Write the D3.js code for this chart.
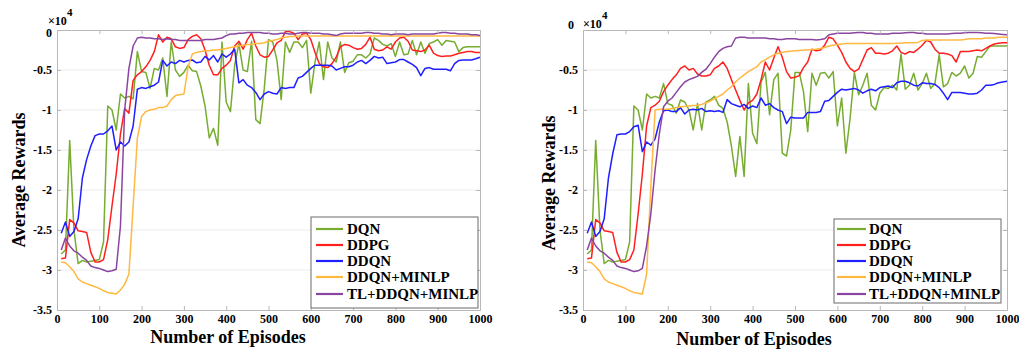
<!DOCTYPE html>
<html>
<head>
<meta charset="utf-8">
<script src="https://cdn.jsdelivr.net/npm/d3@7"></script>
<style>
  body { margin: 0; background: #fff; }
  svg { display: block; font-family: "Liberation Serif", "Times New Roman", serif; font-weight: bold; }
</style>
</head>
<body>
<svg id="chart" width="1019" height="353"></svg>
<script>
// episodes sampled every 10
const episodes = d3.range(10, 1001, 10);
const xTicks = [0, 100, 200, 300, 400, 500, 600, 700, 800, 900, 1000];
const yTicks = [0, -0.5, -1, -1.5, -2, -2.5, -3, -3.5];
const seriesNames = ["DQN", "DDPG", "DDQN", "DDQN+MINLP", "TL+DDQN+MINLP"];

// left panel (x10^4)
const leftDQN = [
  -2.80, -2.75, -1.38, -2.50, -2.92, -2.88, -2.90, -2.89, -2.88, -2.87,
  -2.65, -0.95, -1.00, -1.25, -0.80, -0.85, -0.83, -0.86, -0.27, -0.52,
  -0.53, -0.73, -0.48, -0.50, -0.35, -0.83, -0.15, -0.50, -0.58, -0.53,
  -0.44, -0.51, -0.52, -0.70, -0.95, -1.35, -1.23, -1.44, -0.15, -0.90,
  -1.02, -0.44, -0.17, -0.50, -0.52, -0.14, -1.12, -1.17, -0.73, -0.12,
  -0.15, -0.38, -0.87, -0.15, -0.28, -0.15, -0.15, -0.22, -0.13, -0.79,
  -0.40, -0.15, -0.62, -0.15, -0.35, -0.40, -0.15, -0.53, -0.41, -0.39,
  -0.31, -0.31, -0.35, -0.30, -0.10, -0.13, -0.18, -0.20, -0.17, -0.33,
  -0.15, -0.31, -0.30, -0.13, -0.31, -0.15, -0.29, -0.17, -0.15, -0.12,
  -0.19, -0.13, -0.14, -0.15, -0.27, -0.22, -0.21, -0.21, -0.21, -0.21
];
const leftDDPG = [
  -2.86, -2.85, -2.37, -2.41, -2.51, -2.52, -2.53, -2.78, -2.90, -2.90,
  -2.87, -2.62, -2.20, -1.80, -1.30, -0.98, -1.04, -0.63, -0.56, -0.52,
  -0.46, -0.38, -0.27, -0.06, -0.15, -0.09, -0.11, -0.21, -0.23, -0.22,
  -0.12, -0.08, -0.06, -0.11, -0.25, -0.44, -0.56, -0.56, -0.48, -0.44,
  -0.38, -0.20, -0.14, -0.24, -0.12, -0.04, -0.20, -0.31, -0.34, -0.33,
  -0.25, -0.16, -0.13, -0.02, -0.02, -0.04, -0.12, -0.05, -0.04, -0.12,
  -0.28, -0.42, -0.46, -0.47, -0.42, -0.34, -0.21, -0.18, -0.19, -0.22,
  -0.24, -0.23, -0.18, -0.09, -0.24, -0.26, -0.25, -0.21, -0.24, -0.15,
  -0.10, -0.09, -0.14, -0.25, -0.26, -0.27, -0.25, -0.19, -0.29, -0.32,
  -0.33, -0.325, -0.325, -0.31, -0.29, -0.28, -0.27, -0.27, -0.28, -0.28
];
const leftDDQN = [
  -2.54, -2.40, -2.58, -2.52, -2.36, -1.85, -1.62, -1.45, -1.32, -1.30,
  -1.30, -1.26, -1.20, -1.50, -1.40, -1.45, -1.40, -1.20, -0.74, -0.72,
  -0.73, -0.71, -0.69, -0.65, -0.38, -0.45, -0.40, -0.42, -0.38, -0.40,
  -0.38, -0.375, -0.41, -0.40, -0.33, -0.375, -0.32, -0.40, -0.30, -0.34,
  -0.30, -0.24, -0.66, -0.62, -0.69, -0.72, -0.78, -0.87, -0.80, -0.77,
  -0.79, -0.80, -0.72, -0.73, -0.72, -0.72, -0.60, -0.58, -0.53, -0.48,
  -0.44, -0.44, -0.44, -0.44, -0.45, -0.50, -0.48, -0.46, -0.46, -0.44,
  -0.40, -0.38, -0.42, -0.38, -0.33, -0.35, -0.34, -0.42, -0.41, -0.40,
  -0.37, -0.37, -0.40, -0.43, -0.47, -0.57, -0.48, -0.47, -0.49, -0.49,
  -0.49, -0.49, -0.51, -0.42, -0.38, -0.375, -0.375, -0.375, -0.36, -0.34
];
const leftMINLP = [
  -2.90, -2.91, -2.96, -3.02, -3.11, -3.15, -3.17, -3.19, -3.21, -3.23,
  -3.26, -3.28, -3.29, -3.30, -3.25, -3.18, -3.05, -2.20, -1.35, -1.08,
  -1.02, -1.00, -0.99, -0.97, -0.97, -0.95, -0.87, -0.82, -0.81, -0.80,
  -0.46, -0.30, -0.28, -0.27, -0.26, -0.26, -0.25, -0.25, -0.24, -0.23,
  -0.22, -0.21, -0.20, -0.19, -0.18, -0.18, -0.17, -0.17, -0.16, -0.14,
  -0.13, -0.12, -0.10, -0.09, -0.08, -0.08, -0.075, -0.075, -0.075, -0.075,
  -0.075, -0.075, -0.075, -0.075, -0.075, -0.075, -0.075, -0.075, -0.075, -0.075,
  -0.075, -0.075, -0.075, -0.075, -0.075, -0.075, -0.075, -0.075, -0.075, -0.075,
  -0.075, -0.075, -0.075, -0.075, -0.075, -0.075, -0.075, -0.075, -0.075, -0.075,
  -0.075, -0.075, -0.075, -0.075, -0.075, -0.075, -0.075, -0.075, -0.075, -0.075
];
const leftTL = [
  -2.75, -2.60, -2.70, -2.76, -2.79, -2.84, -2.88, -2.95, -2.97, -2.98,
  -3.00, -3.02, -3.01, -2.99, -2.45, -1.00, -0.48, -0.20, -0.10, -0.09,
  -0.10, -0.10, -0.11, -0.11, -0.12, -0.11, -0.12, -0.12, -0.13, -0.13,
  -0.13, -0.13, -0.13, -0.13, -0.12, -0.12, -0.12, -0.11, -0.10, -0.07,
  -0.05, -0.05, -0.04, -0.04, -0.03, -0.03, -0.03, -0.03, -0.04, -0.04,
  -0.05, -0.05, -0.04, -0.04, -0.05, -0.05, -0.04, -0.03, -0.03, -0.04,
  -0.04, -0.04, -0.05, -0.05, -0.06, -0.07, -0.05, -0.04, -0.04, -0.04,
  -0.04, -0.04, -0.03, -0.03, -0.04, -0.04, -0.05, -0.05, -0.06, -0.05,
  -0.05, -0.05, -0.06, -0.05, -0.05, -0.05, -0.05, -0.05, -0.05, -0.04,
  -0.03, -0.03, -0.04, -0.04, -0.05, -0.05, -0.05, -0.06, -0.06, -0.07
];

// right panel (x10^4)
const rightDQN = [
  -2.80, -2.75, -1.38, -2.50, -2.92, -2.88, -2.90, -2.89, -2.88, -2.87,
  -2.65, -0.95, -1.00, -1.25, -0.80, -0.85, -0.83, -0.85, -0.67, -0.92,
  -0.94, -1.04, -0.875, -0.90, -1.00, -1.25, -0.92, -1.25, -0.90, -0.875,
  -0.83, -0.94, -0.98, -1.15, -1.45, -1.83, -1.33, -1.83, -0.67, -1.29,
  -1.42, -0.65, -0.53, -1.06, -0.62, -0.54, -1.54, -1.575, -1.25, -0.53,
  -0.53, -0.77, -1.27, -0.54, -0.69, -0.54, -0.53, -0.60, -0.52, -1.20,
  -0.85, -1.54, -1.10, -0.53, -0.81, -0.69, -0.54, -0.94, -1.00, -0.79,
  -0.72, -0.73, -0.69, -0.75, -0.30, -0.74, -0.69, -0.54, -0.75, -0.67,
  -0.54, -0.73, -0.67, -0.31, -0.71, -0.67, -0.53, -0.575, -0.54, -0.45,
  -0.60, -0.54, -0.33, -0.34, -0.27, -0.20, -0.20, -0.20, -0.20, -0.20
];
const rightDDPG = [
  -2.86, -2.85, -2.37, -2.41, -2.51, -2.52, -2.53, -2.78, -2.90, -2.90,
  -2.87, -2.75, -2.30, -1.80, -1.20, -0.97, -0.94, -0.89, -0.77, -0.69,
  -0.62, -0.56, -0.48, -0.45, -0.50, -0.48, -0.55, -0.575, -0.575, -0.56,
  -0.48, -0.45, -0.40, -0.48, -0.62, -0.75, -0.88, -1.00, -0.91, -0.88,
  -0.80, -0.62, -0.40, -0.50, -0.35, -0.21, -0.34, -0.52, -0.60, -0.59,
  -0.57, -0.47, -0.40, -0.24, -0.26, -0.25, -0.19, -0.09, -0.11, -0.19,
  -0.28, -0.40, -0.48, -0.52, -0.49, -0.37, -0.25, -0.22, -0.29, -0.29,
  -0.30, -0.29, -0.26, -0.20, -0.28, -0.30, -0.27, -0.28, -0.24, -0.19,
  -0.13, -0.15, -0.24, -0.29, -0.29, -0.30, -0.32, -0.40, -0.27, -0.27,
  -0.27, -0.26, -0.25, -0.26, -0.23, -0.20, -0.175, -0.165, -0.16, -0.16
];
const rightDDQN = [
  -2.54, -2.40, -2.58, -2.52, -2.36, -1.85, -1.55, -1.31, -1.30, -1.30,
  -1.27, -1.21, -1.19, -1.52, -1.40, -1.44, -1.36, -1.15, -1.01, -1.00,
  -1.02, -1.02, -0.97, -1.05, -1.00, -0.99, -1.00, -0.98, -1.02, -1.01,
  -1.02, -1.01, -1.03, -0.87, -0.92, -0.94, -0.96, -0.93, -0.98, -0.95,
  -0.97, -0.85, -0.94, -0.92, -0.97, -1.00, -1.02, -1.17, -1.09, -1.10,
  -1.10, -1.10, -1.03, -1.03, -1.03, -1.02, -0.89, -0.88, -0.83, -0.78,
  -0.74, -0.75, -0.74, -0.73, -0.75, -0.79, -0.76, -0.74, -0.76, -0.72,
  -0.71, -0.70, -0.72, -0.66, -0.64, -0.64, -0.66, -0.69, -0.70, -0.66,
  -0.67, -0.67, -0.68, -0.72, -0.79, -0.87, -0.78, -0.78, -0.78, -0.79,
  -0.80, -0.80, -0.79, -0.75, -0.69, -0.69, -0.68, -0.66, -0.65, -0.64
];
const rightMINLP = [
  -2.90, -2.91, -2.96, -3.02, -3.11, -3.15, -3.17, -3.19, -3.21, -3.23,
  -3.26, -3.28, -3.29, -3.30, -3.05, -1.95, -1.00, -0.99, -0.99, -0.99,
  -0.98, -0.97, -0.96, -0.955, -0.95, -0.945, -0.94, -0.93, -0.91, -0.89,
  -0.86, -0.83, -0.80, -0.75, -0.71, -0.65, -0.60, -0.56, -0.52, -0.49,
  -0.46, -0.40, -0.37, -0.34, -0.31, -0.29, -0.28, -0.27, -0.265, -0.26,
  -0.255, -0.25, -0.25, -0.245, -0.24, -0.23, -0.22, -0.20, -0.19, -0.18,
  -0.175, -0.17, -0.17, -0.17, -0.17, -0.17, -0.17, -0.17, -0.17, -0.17,
  -0.17, -0.17, -0.17, -0.165, -0.165, -0.16, -0.16, -0.16, -0.155, -0.13,
  -0.125, -0.125, -0.125, -0.125, -0.125, -0.125, -0.125, -0.125, -0.125, -0.12,
  -0.11, -0.11, -0.11, -0.11, -0.10, -0.10, -0.10, -0.09, -0.09, -0.09
];
const rightTL = [
  -2.75, -2.60, -2.70, -2.76, -2.79, -2.84, -2.88, -2.95, -2.97, -2.98,
  -3.00, -3.02, -3.01, -2.98, -2.70, -2.30, -1.75, -1.30, -0.96, -0.89,
  -0.85, -0.78, -0.71, -0.65, -0.62, -0.60, -0.58, -0.53, -0.49, -0.42,
  -0.34, -0.27, -0.23, -0.21, -0.20, -0.10, -0.09, -0.09, -0.10, -0.10,
  -0.10, -0.10, -0.10, -0.11, -0.11, -0.12, -0.12, -0.11, -0.11, -0.11,
  -0.12, -0.12, -0.12, -0.12, -0.125, -0.12, -0.11, -0.06, -0.05, -0.04,
  -0.04, -0.04, -0.04, -0.035, -0.03, -0.03, -0.04, -0.04, -0.05, -0.05,
  -0.05, -0.05, -0.04, -0.04, -0.04, -0.035, -0.03, -0.03, -0.04, -0.04,
  -0.05, -0.05, -0.05, -0.05, -0.05, -0.05, -0.045, -0.04, -0.04, -0.035,
  -0.03, -0.03, -0.03, -0.035, -0.04, -0.04, -0.045, -0.05, -0.055, -0.06
];

const colors = ["#77ac30", "#ff1f1f", "#1f1fff", "#ffb840", "#8a45a0"];
const axisColor = "#b8b8b8";

const svg = d3.select("#chart");

function drawPanel(p, data) {
  const g = svg.append("g");
  const x = d3.scaleLinear().domain([0, 1000]).range([p.x0, p.x1]);
  const y = d3.scaleLinear().domain([-3.5, 0]).range([p.y1, p.y0]);

  // horizontal grid
  g.append("g")
    .selectAll("line")
    .data(yTicks.filter((d) => d < 0 && d > -3.5))
    .join("line")
    .attr("x1", p.x0)
    .attr("x2", p.x1)
    .attr("y1", (d) => y(d))
    .attr("y2", (d) => y(d))
    .attr("stroke", "#ececec")
    .attr("stroke-width", 1);

  // series
  const line = d3
    .line()
    .x((d, i) => x(episodes[i]))
    .y((d) => y(d));

  data.forEach((vals, k) => {
    g.append("path")
      .datum(vals)
      .attr("d", line)
      .attr("fill", "none")
      .attr("stroke", colors[k])
      .attr("stroke-width", 1.5)
      .attr("stroke-linejoin", "round");
  });

  // axes (ticks inward)
  const styleAxis = (sel) => {
    sel.select(".domain").attr("stroke", axisColor);
    sel.selectAll(".tick line").attr("stroke", axisColor);
    sel.selectAll(".tick text")
      .attr("fill", "#000")
      .style("font-size", "12px")
      .style("font-family", '"Liberation Serif", "Times New Roman", serif')
      .style("font-weight", "bold");
  };

  g.append("g")
    .attr("transform", `translate(0,${p.y1})`)
    .call(d3.axisBottom(x).tickValues(xTicks).tickSizeInner(-4).tickSizeOuter(0).tickPadding(4).tickFormat(d3.format("d")))
    .call(styleAxis);

  g.append("g")
    .attr("transform", `translate(0,${p.y0})`)
    .call(d3.axisTop(x).tickValues(xTicks).tickSizeInner(-4).tickSizeOuter(0).tickFormat(""))
    .call(styleAxis);

  const ay = g.append("g")
    .attr("transform", `translate(${p.x0},0)`)
    .call(d3.axisLeft(y).tickValues(yTicks).tickSizeInner(-4).tickSizeOuter(0).tickPadding(5).tickFormat((d) => (d === 0 ? "0" : String(d))))
    .call(styleAxis);
  ay.selectAll(".tick text")
    .filter((d) => d === 0)
    .attr("transform", `translate(${p.zeroShift[0]},${p.zeroShift[1]})`);

  g.append("g")
    .attr("transform", `translate(${p.x1},0)`)
    .call(d3.axisRight(y).tickValues(yTicks).tickSizeInner(-4).tickSizeOuter(0).tickFormat(""))
    .call(styleAxis);

  // exponent label
  const ex = g.append("text")
    .attr("x", p.expX)
    .attr("y", p.expY)
    .style("font-size", "12px")
    .text("×10");
  g.append("text")
    .attr("x", p.expX + 19)
    .attr("y", p.expY - 9)
    .style("font-size", "11px")
    .text("4");

  // axis titles
  g.append("text")
    .attr("x", p.xTitle[0])
    .attr("y", p.xTitle[1])
    .attr("text-anchor", "middle")
    .style("font-size", "18px")
    .text("Number of Episodes");

  g.append("text")
    .attr("transform", `translate(${p.yTitle[0]},${p.yTitle[1]}) rotate(-90)`)
    .attr("text-anchor", "middle")
    .style("font-size", "18px")
    .text("Average Rewards");

  // legend
  const lg = g.append("g");
  lg.append("rect")
    .attr("x", p.legend.x)
    .attr("y", p.legend.y)
    .attr("width", p.legend.w)
    .attr("height", p.legend.h)
    .attr("fill", "#fff")
    .attr("stroke", "#6a6a6a")
    .attr("stroke-width", 1);

  const rows = lg.selectAll("g.row")
    .data(seriesNames)
    .join("g")
    .attr("class", "row")
    .attr("transform", (d, i) => `translate(0,${p.legend.rows[i]})`);

  rows.append("line")
    .attr("x1", p.legend.lx0)
    .attr("x2", p.legend.lx1)
    .attr("y1", 0)
    .attr("y2", 0)
    .attr("stroke", (d, i) => colors[i])
    .attr("stroke-width", 2.2);

  rows.append("text")
    .attr("x", p.legend.tx)
    .attr("y", 5)
    .style("font-size", "15px")
    .text((d) => d);
}

drawPanel(
  {
    x0: 57, x1: 480, y0: 30, y1: 310,
    zeroShift: [0, 3],
    expX: 48, expY: 25,
    xTitle: [228, 343],
    yTitle: [25, 180],
    legend: { x: 311, y: 217, w: 167, h: 91, lx0: 316, lx1: 343, tx: 347, rows: [229, 245, 261, 277, 294] }
  },
  [leftDQN, leftDDPG, leftDDQN, leftMINLP, leftTL]
);

drawPanel(
  {
    x0: 583, x1: 1007, y0: 30, y1: 310,
    zeroShift: [-4, -5],
    expX: 583, expY: 28,
    xTitle: [754, 345],
    yTitle: [555, 183],
    legend: { x: 834, y: 219, w: 167, h: 84, lx0: 837, lx1: 866, tx: 869, rows: [229, 245, 261, 277, 294] }
  },
  [rightDQN, rightDDPG, rightDDQN, rightMINLP, rightTL]
);
</script>
</body>
</html>
